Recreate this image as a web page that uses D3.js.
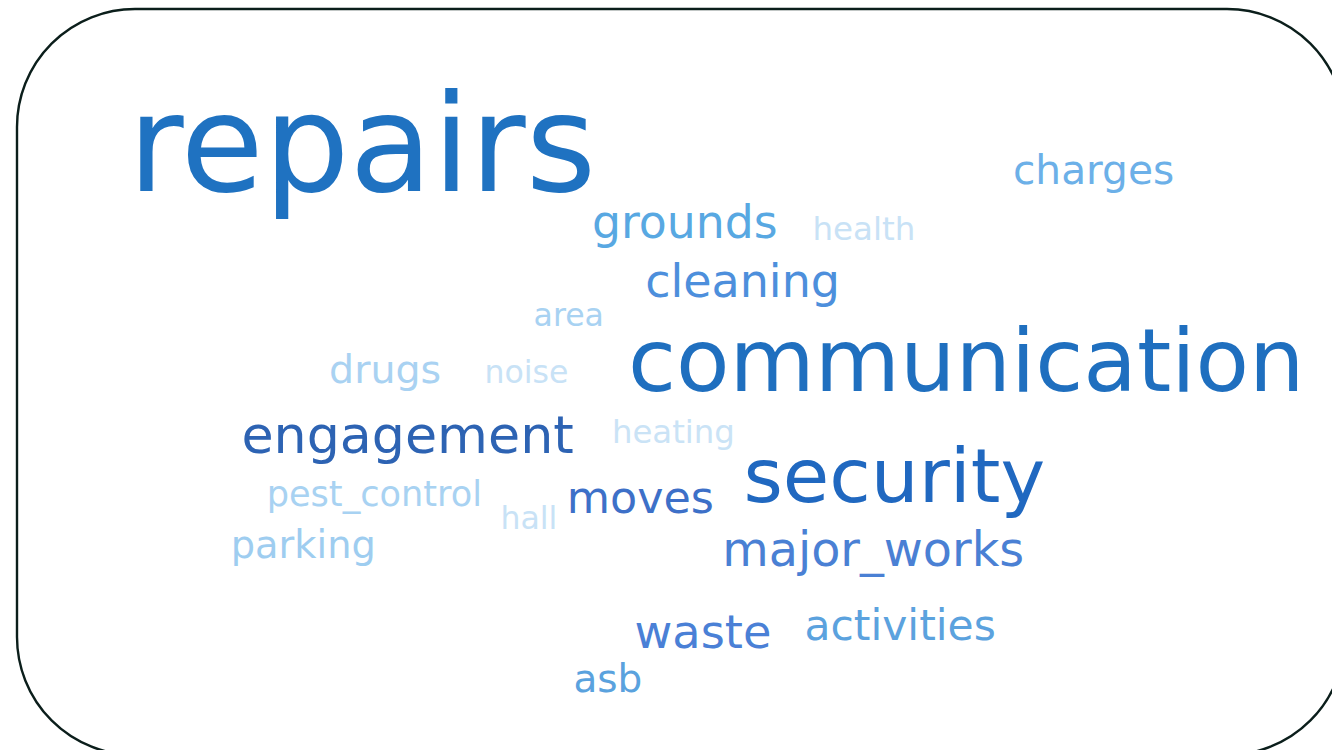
<!DOCTYPE html>
<html>
<head>
<meta charset="utf-8">
<script src="https://cdn.jsdelivr.net/npm/d3@7/dist/d3.min.js"></script>
<style>
  html, body { margin: 0; padding: 0; background: #ffffff; }
  svg { display: block; }
</style>
</head>
<body>
<svg id="chart" width="1332" height="750"></svg>
<script>
// Words of the cloud and their relative weights
const words = ["repairs", "communication", "security", "engagement", "major_works",
  "waste", "grounds", "cleaning", "moves", "activities", "charges", "drugs",
  "asb", "parking", "pest_control", "health", "heating", "noise", "hall", "area"];
const weights = [102, 66, 57, 39.4, 36, 34.9, 34.5, 34.7, 33.5, 32, 30.7, 29.8,
  29.4, 28.9, 26.5, 24.5, 24.4, 23.8, 23.8, 23.8];
// Shade for each word
const palette = ["#1f72c1", "#1f6fbf", "#2068c0", "#2d63b3", "#4a80d4",
  "#4a80d6", "#58a8e2", "#4d8fdc", "#3d70c8", "#5ba2de", "#6cb0e8", "#a9d2f2",
  "#5aa2de", "#9ecdf0", "#a8d2f2", "#c8e2f6", "#cae3f6", "#c8e2f6", "#c8e2f6", "#a8d2f2"];
// Placement of each word inside the frame, in percent of its width / height (left, baseline)
const layoutX = [8.35, 46.0, 54.7, 16.9, 53.1, 46.5, 43.3, 47.3, 41.4, 59.3, 75.0, 23.5,
  41.9, 16.1, 18.8, 59.9, 44.8, 35.2, 36.4, 38.9];
const layoutY = [24.4, 51.2, 66.1, 59.5, 74.6, 85.6, 30.7, 38.6, 67.6, 84.6, 23.5, 50.1,
  91.6, 73.6, 66.6, 30.9, 58.2, 50.1, 69.7, 42.5];

const svg = d3.select("#chart");
const frame = { x: 17, y: 9, w: 1328, h: 746, r: 118 };

svg.append("rect")
  .attr("x", frame.x).attr("y", frame.y)
  .attr("width", frame.w).attr("height", frame.h)
  .attr("rx", frame.r).attr("ry", frame.r)
  .attr("fill", "#ffffff")
  .attr("stroke", "#0b1e1b")
  .attr("stroke-width", 2.4);

const x = d3.scaleLinear().domain([0, 100]).range([frame.x, frame.x + frame.w]);
const y = d3.scaleLinear().domain([0, 100]).range([frame.y, frame.y + frame.h]);
const size = d3.scaleLinear().domain([0, 100]).range([0, 132.6]);

const data = words.map((w, i) => ({ text: w, value: weights[i], color: palette[i], px: layoutX[i], py: layoutY[i] }));

svg.append("g").selectAll("text")
  .data(data)
  .join("text")
  .attr("x", d => x(d.px))
  .attr("y", d => y(d.py))
  .attr("font-family", "'DejaVu Sans', sans-serif")
  .attr("font-size", d => size(d.value) + "px")
  .attr("fill", d => d.color)
  .text(d => d.text);
</script>
</body>
</html>
